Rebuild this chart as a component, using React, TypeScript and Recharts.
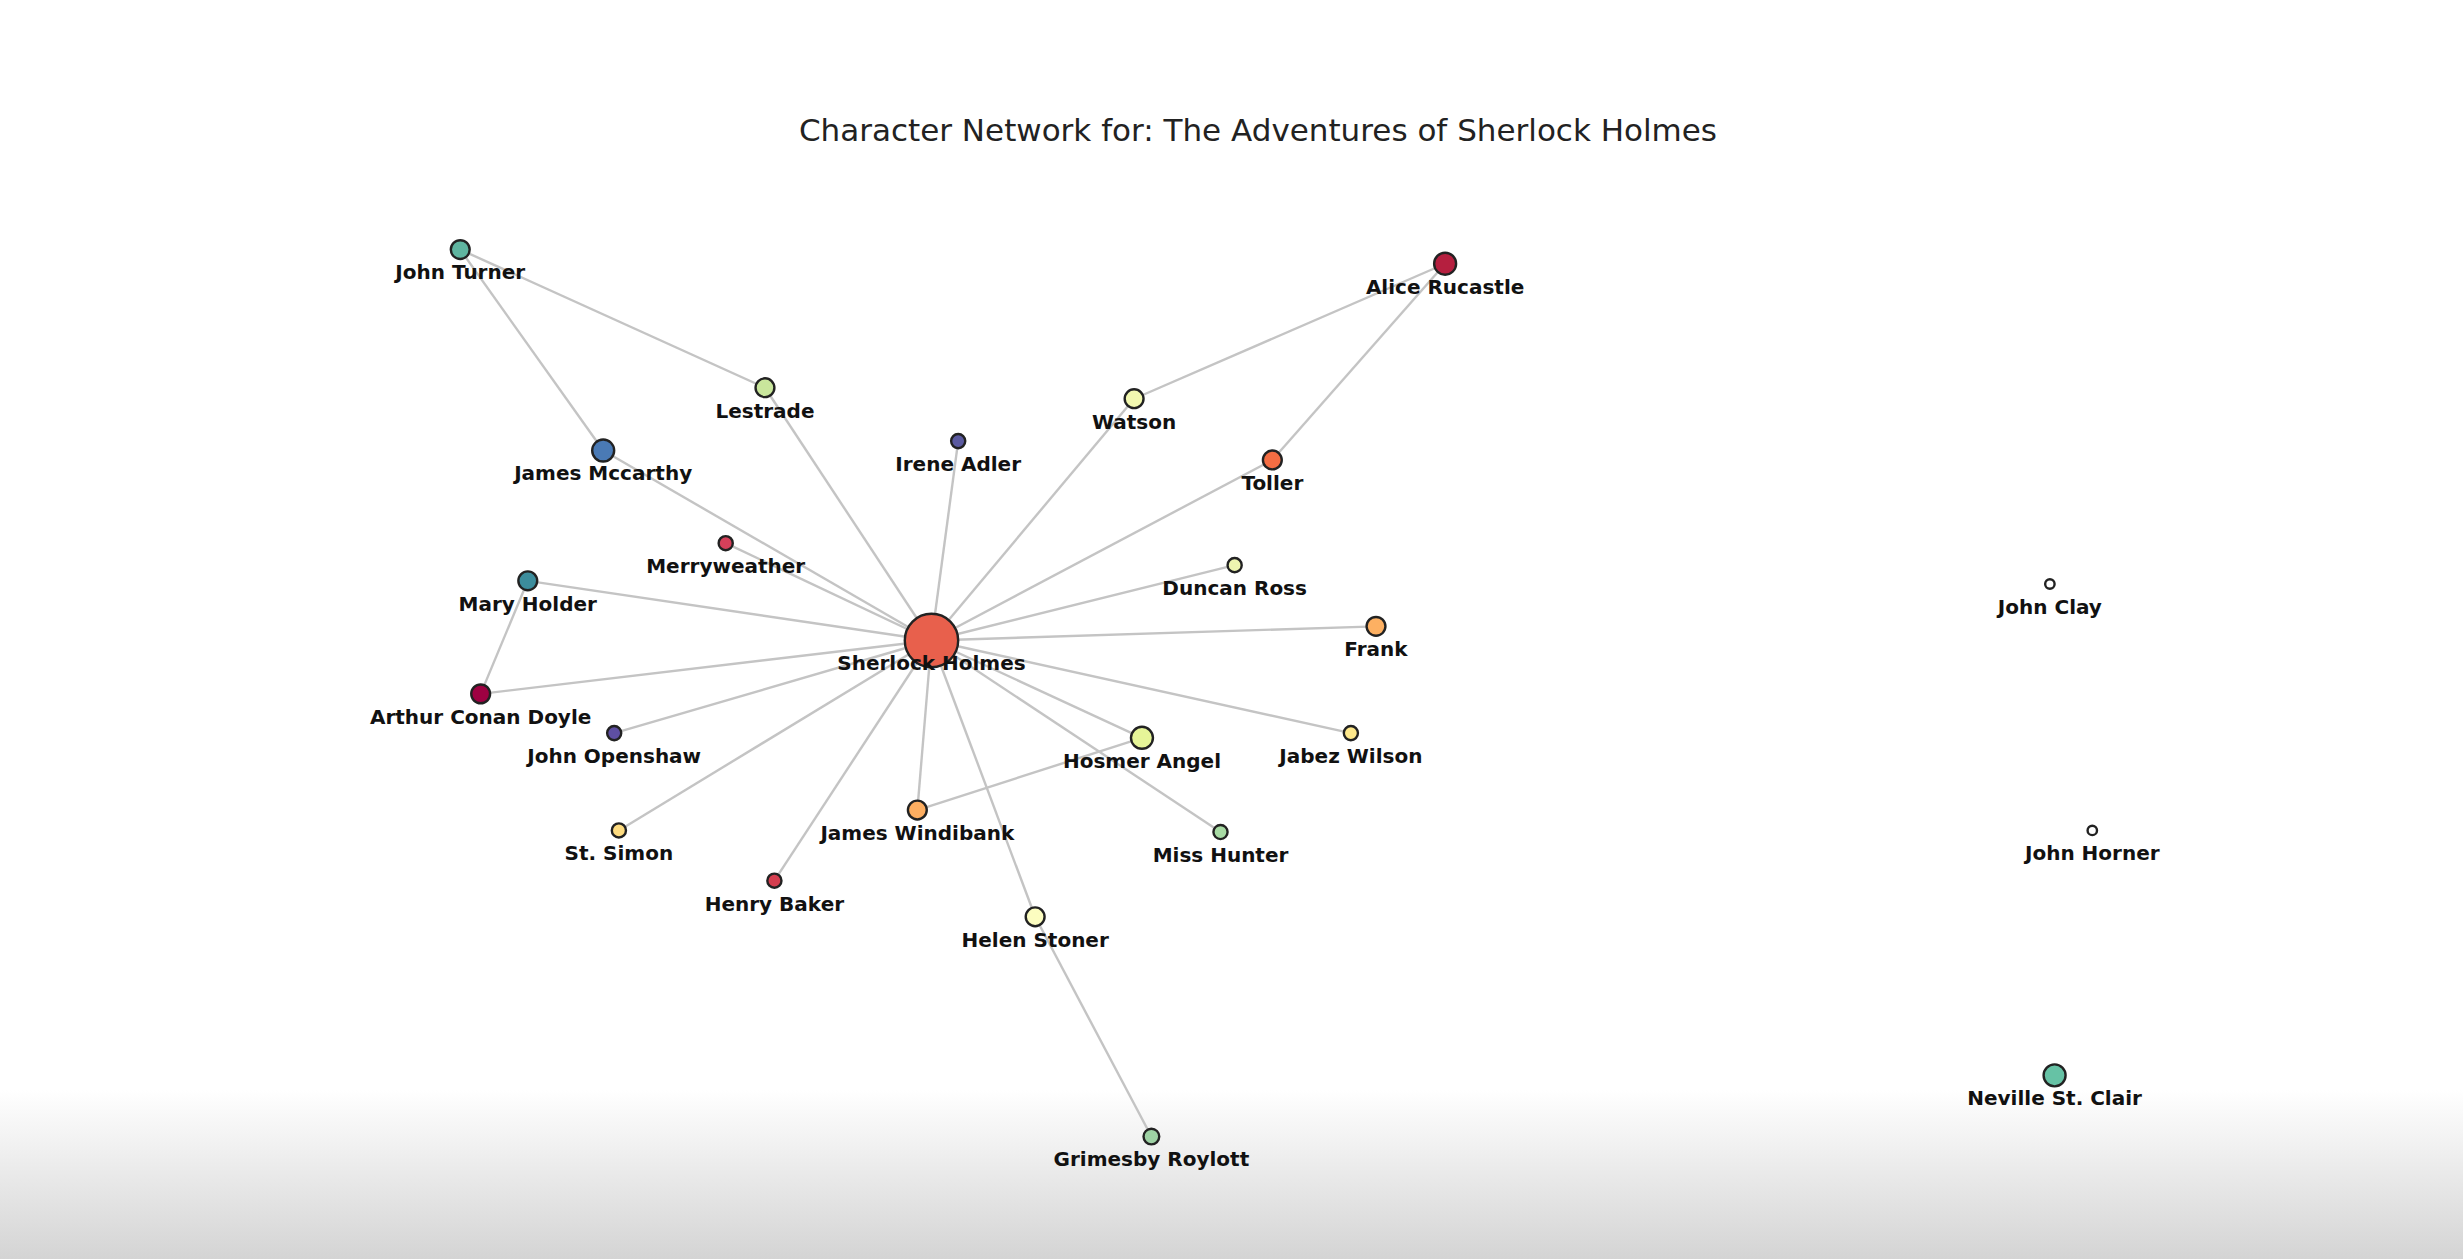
import { ScatterChart, Scatter, XAxis, YAxis, ReferenceLine } from "recharts";

// node positions are in a 1568x802 layout space, scaled by the axes to the canvas
const names = [
  "Sherlock Holmes", "John Turner", "Lestrade", "James Mccarthy", "Irene Adler", "Watson",
  "Alice Rucastle", "Toller", "Merryweather", "Mary Holder", "Duncan Ross", "Frank",
  "Arthur Conan Doyle", "John Openshaw", "Hosmer Angel", "Jabez Wilson", "James Windibank",
  "St. Simon", "Miss Hunter", "Henry Baker", "Helen Stoner", "Grimesby Roylott",
  "John Clay", "John Horner", "Neville St. Clair",
];
const xs = [593, 293, 487, 384, 610, 722, 920, 810, 462, 336, 786, 876, 306, 391, 727, 860, 584, 394, 777, 493, 659, 733, 1305, 1332, 1308];
const ys = [408, 159, 247, 287, 281, 254, 168, 293, 346, 370, 360, 399, 442, 467, 470, 467, 516, 529, 530, 561, 584, 724, 372, 529, 685];
const sizes = [17, 6, 6, 7, 4.5, 6, 7, 6, 4.5, 6, 4.5, 6, 6, 4.5, 7, 4.5, 6, 4.5, 4.5, 4.5, 6, 5, 3, 3, 7];
const colors = [
  "#e8604c", "#5fb5a0", "#c9e69c", "#4a7ab5", "#5b5aa0", "#f2f8b0", "#b51f3f", "#f46d43",
  "#d6405a", "#3c8d9c", "#eef5b0", "#fdb062", "#9e0142", "#5e4fa2", "#e6f598", "#fee88b",
  "#fdae61", "#fedc80", "#a8dba4", "#d53e4f", "#fcfdc0", "#9ed2a4", "#ffffff", "#ffffff", "#66c2a5",
];
const edges: [string, string][] = [
  ["Sherlock Holmes", "Lestrade"], ["Sherlock Holmes", "James Mccarthy"], ["Sherlock Holmes", "Irene Adler"],
  ["Sherlock Holmes", "Watson"], ["Sherlock Holmes", "Toller"], ["Sherlock Holmes", "Merryweather"],
  ["Sherlock Holmes", "Mary Holder"], ["Sherlock Holmes", "Duncan Ross"], ["Sherlock Holmes", "Frank"],
  ["Sherlock Holmes", "Arthur Conan Doyle"], ["Sherlock Holmes", "John Openshaw"], ["Sherlock Holmes", "Hosmer Angel"],
  ["Sherlock Holmes", "Jabez Wilson"], ["Sherlock Holmes", "James Windibank"], ["Sherlock Holmes", "St. Simon"],
  ["Sherlock Holmes", "Miss Hunter"], ["Sherlock Holmes", "Henry Baker"], ["Sherlock Holmes", "Helen Stoner"],
  ["John Turner", "Lestrade"], ["John Turner", "James Mccarthy"], ["Watson", "Alice Rucastle"],
  ["Alice Rucastle", "Toller"], ["Mary Holder", "Arthur Conan Doyle"], ["Hosmer Angel", "James Windibank"],
  ["Helen Stoner", "Grimesby Roylott"],
];

const W = 2463;
const H = 1259;
const K = W / 1568;

const nodes = names.map((name, i) => ({ name, x: xs[i], y: ys[i], r: sizes[i], color: colors[i] }));
const idx = (n: string) => names.indexOf(n);

const Node = (props: any) => {
  const { cx, cy, payload } = props;
  return (
    <g>
      <circle cx={cx} cy={cy} r={payload.r * K} fill={payload.color} stroke="#222" strokeWidth={2.4} />
      <text x={cx} y={cy + 19 * K} textAnchor="middle" fontFamily="DejaVu Sans" fontWeight="bold" fontSize={20} fill="#111">
        {payload.name}
      </text>
    </g>
  );
};

export default function App() {
  return (
    <div style={{ position: "absolute", left: 0, top: 0, width: W, height: H, background: "#fff", overflow: "hidden" }}>
      <div style={{ position: "absolute", left: 0, top: 1090, width: W, height: 169, background: "linear-gradient(#ffffff, #d4d4d4)" }} />
      <div style={{ position: "absolute", left: 0, top: 112, width: 2516, textAlign: "center", fontFamily: "DejaVu Sans", fontSize: 31, color: "#222" }}>
        Character Network for: The Adventures of Sherlock Holmes
      </div>
      <div style={{ position: "absolute", left: 0, top: 0 }}>
        <ScatterChart width={W} height={H} margin={{ top: 0, right: 0, bottom: 0, left: 0 }}>
          <XAxis type="number" dataKey="x" domain={[0, 1568]} hide />
          <YAxis type="number" dataKey="y" domain={[0, 802]} reversed hide />
          {edges.map(([a, b], i) => (
            <ReferenceLine
              key={i}
              segment={[{ x: xs[idx(a)], y: ys[idx(a)] }, { x: xs[idx(b)], y: ys[idx(b)] }]}
              stroke="#c4c4c4"
              strokeWidth={2.4}
              ifOverflow="visible"
            />
          ))}
          <Scatter data={nodes} shape={Node} isAnimationActive={false} />
        </ScatterChart>
      </div>
    </div>
  );
}
